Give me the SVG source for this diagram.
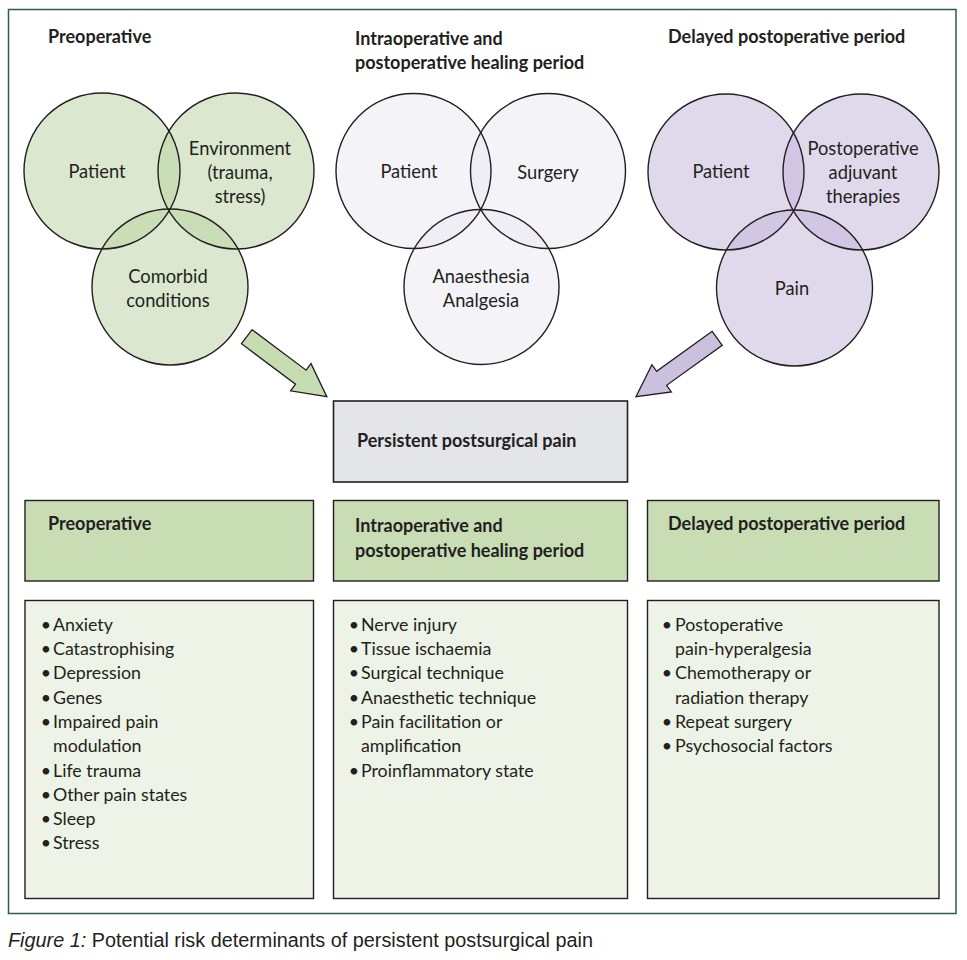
<svg xmlns="http://www.w3.org/2000/svg" width="967" height="960" viewBox="0 0 967 960">
<style>
  text { font-family: Lato, "Open Sans", "Liberation Sans", sans-serif; fill: #231f20; }
  .h { font-size: 18px; font-weight: 700; }
  .c { font-size: 18.3px; text-anchor: middle; }
  .b { font-size: 17.8px; }
  .d { font-size: 17.8px; text-anchor: middle; }
  .ring { fill: none; stroke: #231f20; stroke-width: 1.4; }
  .g { fill: #b7d19f; fill-opacity: 0.5; }
  .m { fill: #e9e7f1; fill-opacity: 0.5; }
  .p { fill: #c1b3d9; fill-opacity: 0.5; }
  .hdr { fill: #c8ddb4; stroke: #231f20; stroke-width: 1.4; }
  .lst { fill: #eef3e7; stroke: #231f20; stroke-width: 1.4; }
  .arr { stroke: #231f20; stroke-width: 1.3; stroke-linejoin: miter; }
</style>
<rect x="0" y="0" width="967" height="960" fill="#ffffff"/>
<rect id="frame" x="8.5" y="9.5" width="947.5" height="904" fill="#ffffff" stroke="#2b5d4f" stroke-width="1.5"/>

<g id="preop-venn">
  <text class="h" x="48" y="43">Preoperative</text>
  <circle class="g" cx="102" cy="171" r="78"/>
  <circle class="g" cx="236" cy="171" r="78"/>
  <circle class="g" cx="170" cy="287" r="78"/>
  <circle class="ring" cx="102" cy="171" r="78"/>
  <circle class="ring" cx="236" cy="171" r="78"/>
  <circle class="ring" cx="170" cy="287" r="78"/>
  <text class="c" x="97" y="178">Patient</text>
  <text class="c" x="240" y="155">Environment</text>
  <text class="c" x="240" y="179">(trauma,</text>
  <text class="c" x="240" y="203">stress)</text>
  <text class="c" x="168" y="283">Comorbid</text>
  <text class="c" x="168" y="307">conditions</text>
</g>

<g id="intraop-venn">
  <text class="h" x="355" y="45">Intraoperative and</text>
  <text class="h" x="355" y="69">postoperative healing period</text>
  <circle class="m" cx="413.5" cy="171" r="77.5"/>
  <circle class="m" cx="548" cy="171" r="77.5"/>
  <circle class="m" cx="481.5" cy="287" r="77.5"/>
  <circle class="ring" cx="413.5" cy="171" r="77.5"/>
  <circle class="ring" cx="548" cy="171" r="77.5"/>
  <circle class="ring" cx="481.5" cy="287" r="77.5"/>
  <text class="c" x="409" y="178">Patient</text>
  <text class="c" x="548" y="179">Surgery</text>
  <text class="c" x="481" y="283">Anaesthesia</text>
  <text class="c" x="481" y="307">Analgesia</text>
</g>

<g id="delayed-venn">
  <text class="h" x="668" y="43">Delayed postoperative period</text>
  <circle class="p" cx="726" cy="172" r="78"/>
  <circle class="p" cx="861" cy="172" r="78"/>
  <circle class="p" cx="794.5" cy="288" r="78"/>
  <circle class="ring" cx="726" cy="172" r="78"/>
  <circle class="ring" cx="861" cy="172" r="78"/>
  <circle class="ring" cx="794.5" cy="288" r="78"/>
  <text class="c" x="721" y="178">Patient</text>
  <text class="c" x="863" y="155">Postoperative</text>
  <text class="c" x="863" y="179">adjuvant</text>
  <text class="c" x="863" y="203">therapies</text>
  <text class="c" x="792" y="295">Pain</text>
</g>

<g id="connectors">
  <polygon class="arr" fill="#c6ddb1" points="252.1,329.7 306.1,370.2 311.0,363.6 326.8,396.7 290.6,390.8 295.5,384.2 241.5,343.7"/>
  <polygon class="arr" fill="#cbc1df" points="712.2,331.3 656.6,371.3 651.9,364.7 636,396.7 671.3,391.9 666.6,385.3 722.2,345.3"/>
</g>

<g id="outcome">
  <rect x="333.5" y="401" width="294" height="81" fill="#e3e5e9" stroke="#231f20" stroke-width="1.6"/>
  <text class="h" x="357" y="447">Persistent postsurgical pain</text>
</g>

<g id="preop-box">
  <rect class="hdr" x="25" y="500.5" width="288.5" height="80.5"/>
  <text class="h" x="48" y="530">Preoperative</text>
</g>
<g id="intraop-box">
  <rect class="hdr" x="333.5" y="500.5" width="294" height="80.5"/>
  <text class="h" x="355" y="532">Intraoperative and</text>
  <text class="h" x="355" y="557">postoperative healing period</text>
</g>
<g id="delayed-box">
  <rect class="hdr" x="647.5" y="500.5" width="291.5" height="80.5"/>
  <text class="h" x="668" y="530">Delayed postoperative period</text>
</g>

<g id="preop-list">
  <rect class="lst" x="25" y="600.5" width="288.5" height="298"/>
  <text class="d" x="46" y="631">•</text><text class="b" x="53" y="631">Anxiety</text>
  <text class="d" x="46" y="655">•</text><text class="b" x="53" y="655">Catastrophising</text>
  <text class="d" x="46" y="679">•</text><text class="b" x="53" y="679">Depression</text>
  <text class="d" x="46" y="703.5">•</text><text class="b" x="53" y="703.5">Genes</text>
  <text class="d" x="46" y="727.5">•</text><text class="b" x="53" y="727.5">Impaired pain</text>
  <text class="b" x="53" y="751.5">modulation</text>
  <text class="d" x="46" y="776.5">•</text><text class="b" x="53" y="776.5">Life trauma</text>
  <text class="d" x="46" y="800.5">•</text><text class="b" x="53" y="800.5">Other pain states</text>
  <text class="d" x="46" y="825">•</text><text class="b" x="53" y="825">Sleep</text>
  <text class="d" x="46" y="849">•</text><text class="b" x="53" y="849">Stress</text>
</g>

<g id="intraop-list">
  <rect class="lst" x="333.5" y="600.5" width="294" height="298"/>
  <text class="d" x="354" y="631">•</text><text class="b" x="361" y="631">Nerve injury</text>
  <text class="d" x="354" y="655">•</text><text class="b" x="361" y="655">Tissue ischaemia</text>
  <text class="d" x="354" y="679">•</text><text class="b" x="361" y="679">Surgical technique</text>
  <text class="d" x="354" y="703.5">•</text><text class="b" x="361" y="703.5">Anaesthetic technique</text>
  <text class="d" x="354" y="727.5">•</text><text class="b" x="361" y="727.5">Pain facilitation or</text>
  <text class="b" x="361" y="751.5">amplification</text>
  <text class="d" x="354" y="776.5">•</text><text class="b" x="361" y="776.5">Proinflammatory state</text>
</g>

<g id="delayed-list">
  <rect class="lst" x="647.5" y="600.5" width="291.5" height="298"/>
  <text class="d" x="667" y="631">•</text><text class="b" x="675" y="631">Postoperative</text>
  <text class="b" x="675" y="655">pain-hyperalgesia</text>
  <text class="d" x="667" y="679">•</text><text class="b" x="675" y="679">Chemotherapy or</text>
  <text class="b" x="675" y="703.5">radiation therapy</text>
  <text class="d" x="667" y="727.5">•</text><text class="b" x="675" y="727.5">Repeat surgery</text>
  <text class="d" x="667" y="751.5">•</text><text class="b" x="675" y="751.5">Psychosocial factors</text>
</g>

<text id="caption" x="8" y="947" font-size="20" textLength="585" lengthAdjust="spacingAndGlyphs" style="font-family: 'Liberation Sans', Arial, sans-serif; fill: #231f20;"><tspan font-style="italic">Figure 1:</tspan> Potential risk determinants of persistent postsurgical pain</text>
</svg>
